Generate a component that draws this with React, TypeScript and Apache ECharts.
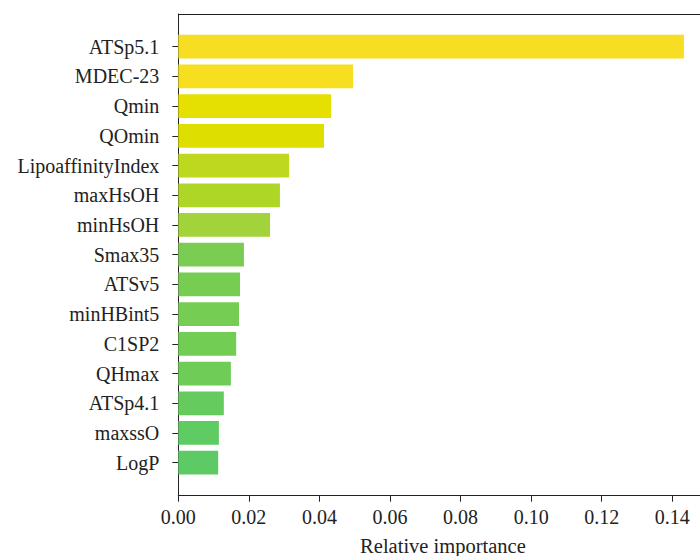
import React, { useEffect, useRef } from "react";
import * as echarts from "echarts";

const categories = [
  "ATSp5.1", "MDEC-23", "Qmin", "QOmin", "LipoaffinityIndex", "maxHsOH", "minHsOH",
  "Smax35", "ATSv5", "minHBint5", "C1SP2", "QHmax", "ATSp4.1", "maxssO", "LogP",
];
const importance = [
  0.1433, 0.0495, 0.0433, 0.0413, 0.0314, 0.0288, 0.026,
  0.0186, 0.0175, 0.0172, 0.0164, 0.0149, 0.0129, 0.0115, 0.0113,
];
const barColors = [
  "#f8de22", "#f7de1f", "#e6e000", "#dedf00", "#bdd81e", "#aed627", "#a2d33a",
  "#7acd52", "#77cd52", "#76cd53", "#72cd55", "#6ecc57", "#65cb5e", "#5fcb63", "#5dca66",
];
const xMin = 0;
const xMax = 0.15;
const xInterval = 0.02;

const FONT = "'Liberation Serif', 'DejaVu Serif', serif";
const INK = "#222";

export default function App() {
  const ref = useRef<HTMLDivElement>(null);
  useEffect(() => {
    if (!ref.current) return;
    const chart = echarts.init(ref.current, undefined, { renderer: "svg" });
    const left = 178.3;
    const width = 529.3;
    chart.setOption({
      animation: false,
      backgroundColor: "#ffffff",
      textStyle: { fontFamily: FONT },
      grid: [
        { left, width, top: 14, height: 481.7, outerBoundsMode: "none", containLabel: false },
        { left, width, top: 31.85, height: 445.7, outerBoundsMode: "none", containLabel: false },
      ],
      xAxis: [
        {
          type: "value", gridIndex: 0, position: "bottom", min: xMin, max: xMax, interval: xInterval,
          name: "Relative importance", nameLocation: "middle", nameGap: 40,
          nameTextStyle: { fontFamily: FONT, fontSize: 20.5, color: INK },
          axisLine: { show: true, onZero: false, lineStyle: { color: INK, width: 1 } },
          axisTick: { show: true, length: 6, lineStyle: { color: INK } },
          axisLabel: {
            fontFamily: FONT, fontSize: 20, color: INK, margin: 11, showMaxLabel: false,
            formatter: (v: number) => v.toFixed(2),
          },
          splitLine: { show: false },
        },
        {
          type: "value", gridIndex: 0, position: "top", min: xMin, max: xMax,
          axisLine: { show: true, onZero: false, lineStyle: { color: INK, width: 1 } },
          axisTick: { show: false }, axisLabel: { show: false }, splitLine: { show: false },
        },
        { type: "value", gridIndex: 1, min: xMin, max: xMax, show: false, splitLine: { show: false } },
      ],
      yAxis: [
        {
          type: "value", gridIndex: 0, position: "left",
          axisLine: { show: true, onZero: false, lineStyle: { color: INK, width: 1 } },
          axisTick: { show: false }, axisLabel: { show: false }, splitLine: { show: false },
        },
        {
          type: "category", gridIndex: 1, data: categories, inverse: true,
          axisLine: { show: false },
          axisTick: { show: true, length: 6, alignWithLabel: true, lineStyle: { color: INK } },
          axisLabel: { fontFamily: FONT, fontSize: 20, color: INK, margin: 19 },
        },
      ],
      series: [
        {
          type: "bar", xAxisIndex: 2, yAxisIndex: 1,
          barCategoryGap: "20%",
          data: importance.map((v, i) => ({ value: v, itemStyle: { color: barColors[i] } })),
        },
      ],
    });
    return () => chart.dispose();
  }, []);
  return <div ref={ref} style={{ position: "fixed", left: 0, top: 0, width: 700, height: 556 }} />;
}
